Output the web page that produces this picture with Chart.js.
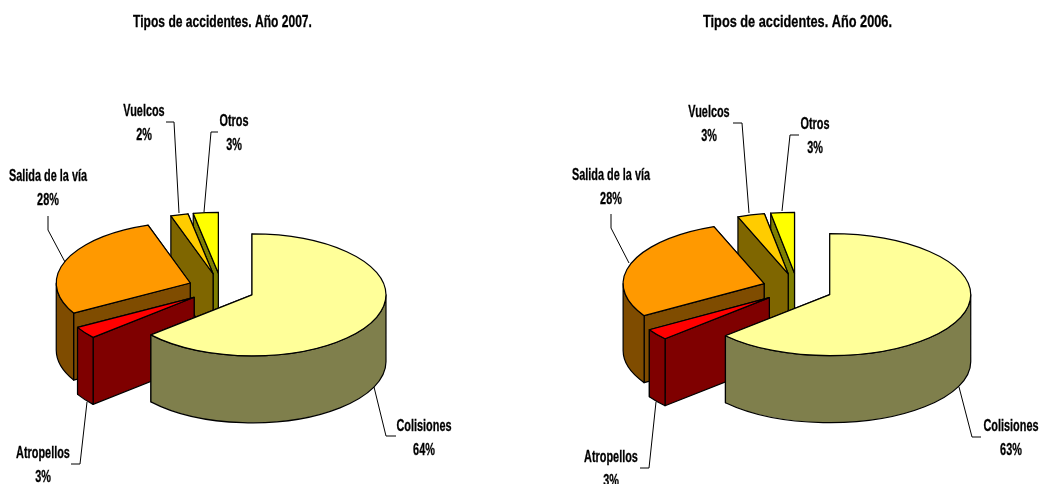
<!DOCTYPE html>
<html>
<head>
<meta charset="utf-8">
<title>Tipos de accidentes</title>
<script src="https://cdn.jsdelivr.net/npm/chart.js@4"></script>
<style>
  html, body { margin: 0; padding: 0; background: #fff; }
  body { width: 1039px; height: 484px; position: relative; overflow: hidden; }
  canvas { position: absolute; top: 0; }
</style>
</head>
<body>
<canvas id="pie2007" width="500" height="484" style="left:0"></canvas>
<canvas id="pie2006" width="483" height="484" style="left:556px"></canvas>
<script>
const categories = ['Colisiones', 'Atropellos', 'Salida de la vía', 'Vuelcos', 'Otros'];
const values2007 = [63.6, 3.2, 28.1, 2.1, 3.0];
const values2006 = [63.25, 2.95, 28.0, 3.1, 2.7];
const sliceColors = ['#FFFF99', '#FF0000', '#FF9900', '#FFCC00', '#FFFF00'];
const title2007 = 'Tipos de accidentes. Año 2007.';
const title2006 = 'Tipos de accidentes. Año 2006.';

// label layout in canvas pixels: text centre x, first line y, then the leader polyline
const labels2007 = [
  { x: 424, y: 426, line: [[374, 387], [386, 436], [396, 436]] },
  { x: 43,  y: 453, line: [[87, 402], [80, 464], [71, 464]] },
  { x: 48,  y: 176, line: [[65, 262], [48, 230], [48, 216]] },
  { x: 144, y: 111, line: [[179, 213], [174, 122], [166, 122]] },
  { x: 234, y: 121, line: [[204, 212], [211, 132], [218, 132]] }
];
const labels2006 = [
  { x: 455, y: 426, line: [[403, 387], [416, 437], [425, 437]] },
  { x: 55,  y: 457, line: [[100, 402], [93, 468], [84, 468]] },
  { x: 55,  y: 175, line: [[73, 263], [55, 228], [55, 214]] },
  { x: 153, y: 112, line: [[193, 213], [186, 123], [177, 123]] },
  { x: 259, y: 124, line: [[226, 211], [234, 135], [243, 135]] }
];

// half tone of a slice colour, for its sides
function shade(hex) {
  const n = parseInt(hex.slice(1), 16);
  return `rgb(${(n >> 16) >> 1}, ${((n >> 8) & 255) >> 1}, ${(n & 255) >> 1})`;
}

// squeezed bold text, the source picture was shrunk sideways
function narrowText(ctx, txt, x, y, sx) {
  ctx.save();
  ctx.translate(x, y);
  ctx.scale(sx, 1);
  ctx.fillText(txt, 0, 0);
  ctx.strokeText(txt, 0, 0);
  ctx.restore();
}

const pie3d = {
  id: 'pie3d',
  beforeDatasetsDraw(chart, args, opts) {
    const ctx = chart.ctx;
    const arcs = chart.getDatasetMeta(0).data;
    const colors = chart.data.datasets[0].backgroundColor;
    const cy0 = (chart.chartArea.top + chart.chartArea.bottom) / 2;
    ctx.save();
    ctx.lineWidth = 1.2;
    ctx.strokeStyle = '#000';
    ctx.lineJoin = 'round';
    // back slices first, the first slice ends up on top
    for (let i = arcs.length - 1; i >= 0; i--) {
      const a = arcs[i];
      const rx = a.outerRadius;
      const ry = rx * opts.tilt;
      const mid = (a.startAngle + a.endAngle) / 2;
      const cx = a.x + Math.cos(mid) * rx * opts.explode;
      const cy = cy0 + (a.y - cy0) * opts.tilt + Math.sin(mid) * ry * opts.explode;
      const d = opts.depth;
      const side = shade(colors[i]);

      // cut faces, the farther one first
      [a.startAngle, a.endAngle]
        .sort((p, q) => Math.sin(p) - Math.sin(q))
        .forEach(ang => {
          const ex = cx + rx * Math.cos(ang);
          const ey = cy + ry * Math.sin(ang);
          ctx.beginPath();
          ctx.moveTo(cx, cy);
          ctx.lineTo(ex, ey);
          ctx.lineTo(ex, ey + d);
          ctx.lineTo(cx, cy + d);
          ctx.closePath();
          ctx.fillStyle = side;
          ctx.fill();
          ctx.stroke();
        });

      // outer wall, only the part turned to the viewer
      const from = Math.max(a.startAngle, 0);
      const to = Math.min(a.endAngle, Math.PI);
      if (to > from) {
        ctx.beginPath();
        ctx.ellipse(cx, cy, rx, ry, 0, from, to);
        ctx.ellipse(cx, cy + d, rx, ry, 0, to, from, true);
        ctx.closePath();
        ctx.fillStyle = side;
        ctx.fill();
        ctx.stroke();
      }

      // top
      ctx.beginPath();
      ctx.moveTo(cx, cy);
      ctx.ellipse(cx, cy, rx, ry, 0, a.startAngle, a.endAngle);
      ctx.closePath();
      ctx.fillStyle = colors[i];
      ctx.fill();
      ctx.stroke();
    }
    ctx.restore();
    return false;
  },
  afterDraw(chart, args, opts) {
    const ctx = chart.ctx;
    const vals = chart.data.datasets[0].data;
    ctx.save();
    ctx.strokeStyle = '#000';
    ctx.fillStyle = '#000';
    ctx.textAlign = 'center';
    ctx.textBaseline = 'middle';

    ctx.lineWidth = 0.3;
    ctx.font = 'bold 17px "Liberation Sans", Arial, sans-serif';
    narrowText(ctx, opts.title, opts.titleX, 22, opts.titleScale);

    ctx.font = 'bold 16px "Liberation Sans", Arial, sans-serif';
    opts.layout.forEach((l, i) => {
      ctx.lineWidth = 1;
      ctx.beginPath();
      l.line.forEach((p, j) => j ? ctx.lineTo(p[0], p[1]) : ctx.moveTo(p[0], p[1]));
      ctx.stroke();
      ctx.lineWidth = 0.3;
      narrowText(ctx, chart.data.labels[i], l.x, l.y + 1, 0.68);
      narrowText(ctx, Math.round(vals[i]) + '%', l.x, l.y + 25, 0.68);
    });
    ctx.restore();
  }
};

function makePie(id, values, title, titleX, titleScale, layout, radius, padRight) {
  return new Chart(document.getElementById(id), {
    type: 'pie',
    data: {
      labels: categories,
      datasets: [{ data: values, backgroundColor: sliceColors, borderColor: '#000', borderWidth: 1 }]
    },
    options: {
      responsive: false,
      animation: false,
      radius: radius,
      events: [],
      layout: { padding: { top: 93, right: padRight } },
      plugins: {
        legend: { display: false },
        tooltip: { enabled: false },
        title: { display: false },
        pie3d: { tilt: 61 / radius, explode: 0.25, depth: 67, layout: layout, title: title, titleX: titleX, titleScale: titleScale }
      }
    },
    plugins: [pie3d]
  });
}

makePie('pie2007', values2007, title2007, 222.5, 0.71, labels2007, 134, 57);
makePie('pie2006', values2006, title2006, 241.5, 0.75, labels2006, 141, 0);
</script>
</body>
</html>
